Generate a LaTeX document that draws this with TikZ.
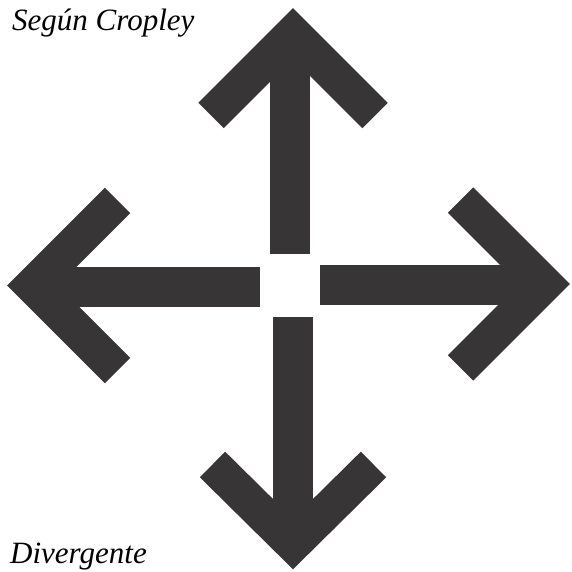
\documentclass[tikz,border=0pt]{standalone}
\usepackage{fontspec}
\newfontfamily\lblfont{Liberation Serif}[ItalicFont={Liberation Serif Italic}]
\definecolor{ink}{RGB}{55,53,54}
\begin{document}
\begin{tikzpicture}[x=1pt,y=-1pt,
  chev/.style={draw=ink,line width=36pt,line join=miter,line cap=butt},
  shaft/.style={draw=ink,line width=40pt,line cap=butt},
  lbl/.style={anchor=base west,inner sep=0pt,text=black,font=\lblfont\itshape\fontsize{31}{31}\selectfont}]
\useasboundingbox (0,0) rectangle (571,572);
% up arrow
\draw[shaft] (290,254) -- (290,40);
\draw[chev] (211,115.5) -- (293,33.5) -- (375,115.5);
% down arrow
\draw[shaft] (292.5,317) -- (292.5,540);
\draw[chev] (212.5,464.5) -- (293,544) -- (373.5,464.5);
% left arrow
\draw[shaft] (260,287) -- (38,287);
\draw[chev] (117.5,200.5) -- (32.5,285.5) -- (117.5,370.5);
% right arrow
\draw[shaft] (320,285) -- (540,285);
\draw[chev] (460.5,200) -- (544.5,284) -- (460.5,368);
% labels
\node[lbl] (t1) at (12,31) {Según Cropley};
\node[lbl] (t2) at (10,563) {Divergente};
\end{tikzpicture}
\end{document}
